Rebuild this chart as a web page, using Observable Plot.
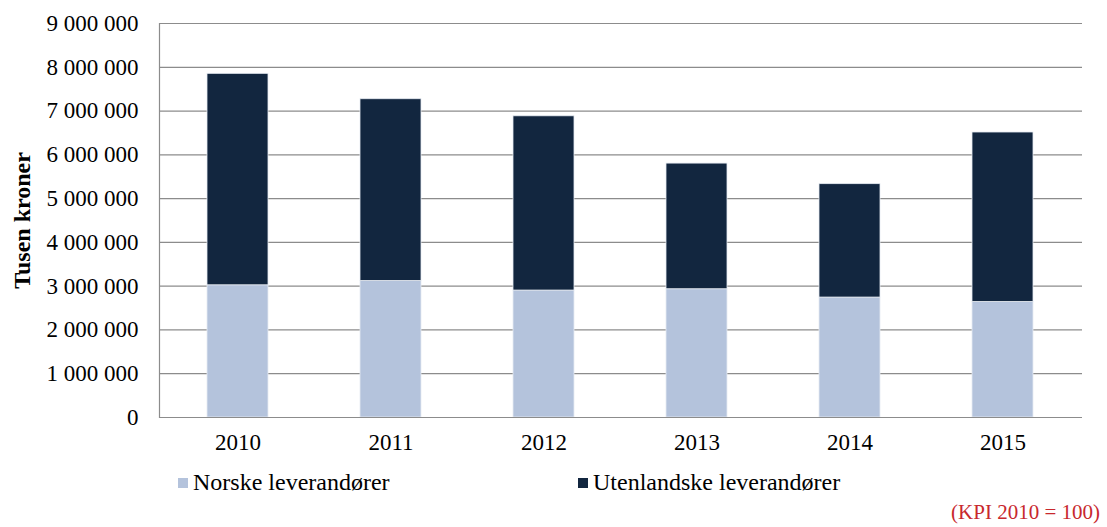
<!DOCTYPE html>
<html>
<head>
<meta charset="utf-8">
<script src="https://cdn.jsdelivr.net/npm/d3@7"></script>
<script src="https://cdn.jsdelivr.net/npm/@observablehq/plot@0.6"></script>
<style>
  body { margin: 0; background: #fff; }
  #wrap { position: relative; width: 1107px; height: 527px; font-family: "Liberation Serif", "Times New Roman", serif; }
  .leg { position: absolute; top: 469px; font-size: 24px; color: #000; display: flex; align-items: center; white-space: nowrap; }
  .sw { width: 10px; height: 10px; display: inline-block; margin-right: 5px; }
  #kpi { position: absolute; right: 7px; top: 500px; font-size: 21px; color: #c8282d; white-space: nowrap; }
</style>
</head>
<body>
<div id="wrap">
  <div id="chart"></div>
  <div class="leg" style="left:178px"><span class="sw" style="background:#b4c3dc"></span>Norske leverandører</div>
  <div class="leg" style="left:578px"><span class="sw" style="background:#12263f"></span>Utenlandske leverandører</div>
  <div id="kpi">(KPI 2010 = 100)</div>
</div>
<script>
const years = ["2010", "2011", "2012", "2013", "2014", "2015"];
const norske = [3020000, 3120000, 2900000, 2930000, 2740000, 2640000];
const totals = [7850000, 7270000, 6880000, 5800000, 5330000, 6510000];
const seriesNames = ["Norske leverandører", "Utenlandske leverandører"];
const seriesColors = ["#b4c3dc", "#12263f"];
const yTicks = d3.range(0, 9000001, 1000000);

const data = [];
years.forEach((y, i) => {
  data.push({year: y, series: seriesNames[0], value: norske[i]});
  data.push({year: y, series: seriesNames[1], value: totals[i] - norske[i]});
});

const fmt = d => d3.format(",")(d).replace(/,/g, " ");

const chart = Plot.plot({
  width: 1107,
  height: 460,
  marginLeft: 159,
  marginRight: 25,
  marginTop: 23,
  marginBottom: 43,
  style: {fontFamily: "Liberation Serif, Times New Roman, serif", fontSize: "23px", color: "#000", background: "#fff"},
  x: {domain: years, paddingInner: 0.6, paddingOuter: 0.3, label: null, tickSize: 0, tickPadding: 16},
  y: {domain: [0, 9000000], ticks: yTicks, tickFormat: fmt, label: null, tickSize: 0, tickPadding: 21},
  color: {domain: seriesNames, range: seriesColors},
  marks: [
    Plot.gridY(yTicks, {stroke: "#8c8c8c", strokeOpacity: 1, strokeWidth: 1.2}),
    Plot.barY(data, {x: "year", y: "value", fill: "series", order: seriesNames, stroke: "#e6ebf2", strokeWidth: 0.8}),
    Plot.frame({anchor: "left", stroke: "#8c8c8c", strokeWidth: 1.2}),
    Plot.ruleY([0], {stroke: "#8c8c8c", strokeWidth: 1.2}),
    Plot.text(["Tusen kroner"], {frameAnchor: "left", textAnchor: "middle", rotate: -90, dx: -137, fontWeight: "bold", fontSize: 24, fill: "#000"})
  ]
});
document.getElementById("chart").appendChild(chart);
</script>
</body>
</html>
